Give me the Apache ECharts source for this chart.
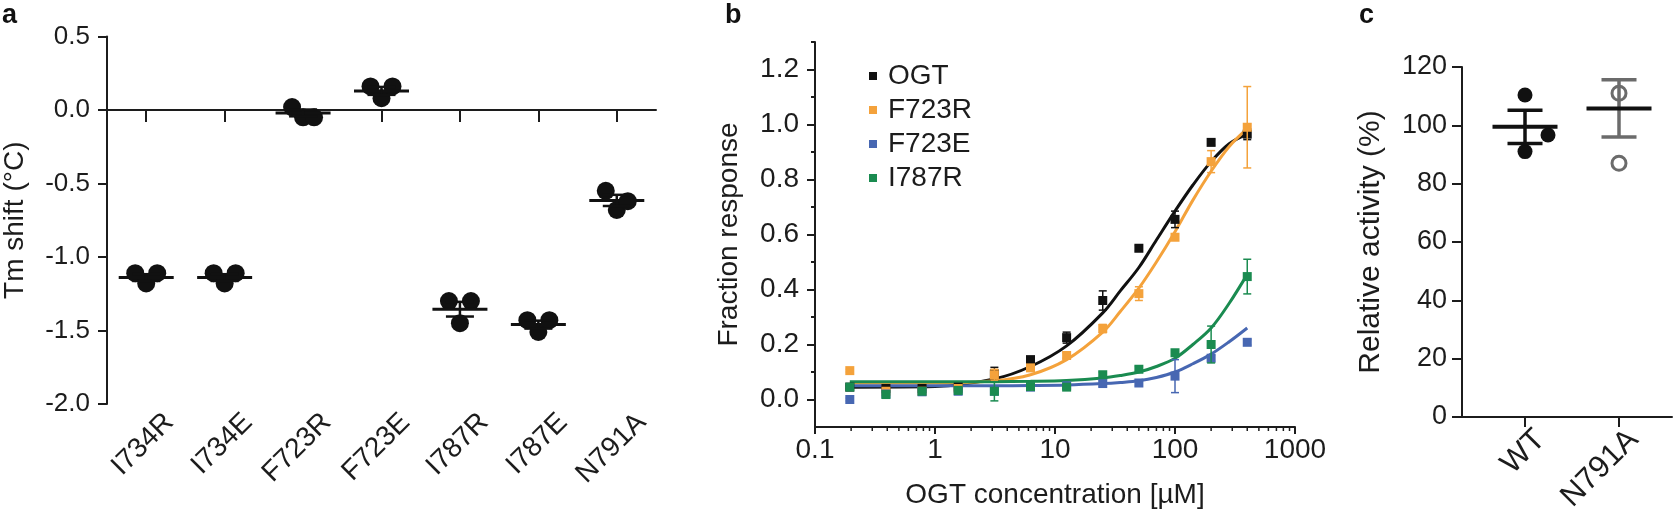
<!DOCTYPE html>
<html><head><meta charset="utf-8">
<script src="https://cdn.jsdelivr.net/npm/echarts@6/dist/echarts.min.js"></script>
<style>html,body{margin:0;padding:0;background:#fff}#c{width:1680px;height:515px}</style>
</head><body><div id="c"></div>
<script>
// ---------- Panel a data ----------
const aCategories = ['I734R','I734E','F723R','F723E','I787R','I787E','N791A'];
const aRepLeft   = [-1.11, -1.11,  0.02, 0.16, -1.30, -1.43, -0.55];
const aRepCenter = [-1.18, -1.18, -0.05, 0.08, -1.45, -1.51, -0.68];
const aRepRight  = [-1.11, -1.11, -0.05, 0.16, -1.30, -1.43, -0.62];
const aMean      = [-1.14, -1.14, -0.02, 0.13, -1.355, -1.46, -0.615];
const aSem       = [0.023, 0.023, 0.023, 0.027, 0.05, 0.027, 0.038];

// ---------- Panel b data ----------
const bConc   = [0.195, 0.39, 0.78, 1.56, 3.125, 6.25, 12.5, 25, 50, 100, 200, 400];
const bOGT    = [0.045, 0.040, 0.040, 0.045, 0.093, 0.145, 0.225, 0.360, 0.550, 0.655, 0.935, 0.965];
const bOGTErr = [0.005, 0.005, 0.005, 0.005, 0.024, 0.010, 0.020, 0.035, 0.010, 0.030, 0.010, 0.020];
const bF723R    = [0.105, 0.030, 0.030, 0.040, 0.090, 0.115, 0.160, 0.258, 0.385, 0.590, 0.865, 0.990];
const bF723RErr = [0.005, 0.005, 0.005, 0.005, 0.020, 0.010, 0.010, 0.015, 0.025, 0.010, 0.040, 0.148];
const bF723E    = [0.000, 0.020, 0.028, 0.030, 0.030, 0.045, 0.050, 0.058, 0.060, 0.085, 0.150, 0.208];
const bF723EErr = [0.005, 0.005, 0.005, 0.005, 0.005, 0.005, 0.005, 0.010, 0.010, 0.060, 0.010, 0.010];
const bI787R    = [0.045, 0.018, 0.030, 0.033, 0.030, 0.047, 0.045, 0.090, 0.110, 0.170, 0.200, 0.447];
const bI787RErr = [0.005, 0.005, 0.005, 0.005, 0.035, 0.005, 0.005, 0.010, 0.010, 0.010, 0.067, 0.063];
// fitted curves
const bFitConc  = [0.195, 1, 3.125, 6.25, 12.5, 25, 35, 50, 70, 100, 141, 200, 283, 400];
const bFitOGT   = [0.045, 0.047, 0.075, 0.120, 0.195, 0.315, 0.395, 0.480, 0.580, 0.685, 0.780, 0.865, 0.930, 0.965];
const bFitF723R = [0.060, 0.060, 0.068, 0.090, 0.145, 0.245, 0.320, 0.405, 0.500, 0.610, 0.725, 0.830, 0.920, 0.985];
const bFitF723E = [0.050, 0.050, 0.050, 0.051, 0.053, 0.058, 0.062, 0.068, 0.080, 0.100, 0.130, 0.165, 0.210, 0.260];
const bFitI787R = [0.065, 0.065, 0.065, 0.066, 0.069, 0.078, 0.087, 0.100, 0.120, 0.150, 0.200, 0.260, 0.350, 0.455];
const bYLabelTicks = [0, 0.2, 0.4, 0.6, 0.8, 1.0, 1.2];
const bYMinorTicks = [0.1, 0.3, 0.5, 0.7, 0.9, 1.1, 1.3];
const bXMinorTicks = [0.2,0.3,0.4,0.5,0.6,0.7,0.8,0.9, 2,3,4,5,6,7,8,9, 20,30,40,50,60,70,80,90, 200,300,400,500,600,700,800,900];
const bSeriesNames = ['OGT','F723R','F723E','I787R'];

// ---------- Panel c data ----------
const cCategories = ['WT','N791A'];
const cWT    = [110.4, 91.0, 96.7];
const cN791A = [120.1, 111.0, 87.0];
const cMean  = [99.5, 105.8];
const cSem   = [5.7, 9.8];

// ---------- styles ----------
const FONT = "'Liberation Sans', Arial, Helvetica, sans-serif";
const INK = '#1c1c1c';
const COL = {OGT:'#111111', F723R:'#F4A23B', F723E:'#4767B2', I787R:'#1A8B50'};
const aJitter = [-11, 0, 11];
const cWTJitter = [0, 0, 23];

function meanLine(width, thick, colors) {
  return function (params, api) {
    const p = api.coord([api.value(0), api.value(1)]);
    const col = Array.isArray(colors) ? colors[params.dataIndex] : colors;
    return {type:'line', shape:{x1:p[0]-width/2, y1:p[1], x2:p[0]+width/2, y2:p[1]},
            style:{stroke:col, lineWidth:thick}};
  };
}
function errBars(capW, lw, colors) {
  return function (params, api) {
    const x = api.value(0), y = api.value(1), e = api.value(2);
    const col = Array.isArray(colors) ? colors[params.dataIndex] : colors;
    const t = api.coord([x, y + e]), b = api.coord([x, y - e]);
    const st = {stroke: col, lineWidth: lw};
    return {type:'group', children:[
      {type:'line', shape:{x1:t[0], y1:t[1], x2:b[0], y2:b[1]}, style:st},
      {type:'line', shape:{x1:t[0]-capW/2, y1:t[1], x2:t[0]+capW/2, y2:t[1]}, style:st},
      {type:'line', shape:{x1:b[0]-capW/2, y1:b[1], x2:b[0]+capW/2, y2:b[1]}, style:st}
    ]};
  };
}

const txt = (size) => ({fontFamily: FONT, fontSize: size, color: INK});

const chart = echarts.init(document.getElementById('c'), null, {renderer:'canvas'});

const series = [];
// panel a replicates
[aRepLeft, aRepCenter, aRepRight].forEach((arr, k) => {
  series.push({type:'scatter', xAxisIndex:0, yAxisIndex:0, symbol:'circle', symbolSize:18,
    symbolOffset:[aJitter[k], 0], itemStyle:{color:'#111', opacity:1},
    data: arr.map((v, i) => [i, v]), z:3});
});
series.push({type:'custom', xAxisIndex:0, yAxisIndex:0, renderItem: meanLine(55, 3, '#111'),
  data: aMean.map((v, i) => [i, v]), z:4});
series.push({type:'custom', xAxisIndex:0, yAxisIndex:0, renderItem: errBars(28, 2.5, '#111'),
  data: aMean.map((v, i) => [i, v, aSem[i]]), z:4});

// panel b fitted curves
const fits = {OGT:bFitOGT, F723R:bFitF723R, F723E:bFitF723E, I787R:bFitI787R};
['OGT','F723R','F723E','I787R'].forEach(n => {
  series.push({type:'line', name:n+' fit', xAxisIndex:2, yAxisIndex:2, smooth:0.35, showSymbol:false,
    lineStyle:{color:COL[n], width:3}, itemStyle:{color:COL[n]},
    data: bFitConc.map((x, i) => [x, fits[n][i]]), z:2});
});
// panel b error bars + points
const pts = {OGT:[bOGT,bOGTErr], F723R:[bF723R,bF723RErr], F723E:[bF723E,bF723EErr], I787R:[bI787R,bI787RErr]};
['OGT','F723R','F723E','I787R'].forEach((n, k) => {
  series.push({type:'custom', xAxisIndex:2, yAxisIndex:2, renderItem: errBars(8, 1.5, COL[n]),
    data: bConc.map((x, i) => [x, pts[n][0][i], pts[n][1][i]]), z:5+k});
  series.push({type:'scatter', name:n, xAxisIndex:2, yAxisIndex:2, symbol:'rect', symbolSize:9,
    itemStyle:{color:COL[n], opacity:1}, data: bConc.map((x, i) => [x, pts[n][0][i]]), z:5+k});
});
// panel b minor x ticks (drawn at axis position through the log scale)
series.push({type:'custom', xAxisIndex:2, yAxisIndex:2, silent:true,
  renderItem: function (params, api) {
    const p = api.coord([api.value(0), -0.1]);
    return {type:'line', shape:{x1:p[0], y1:p[1], x2:p[0], y2:p[1]+4}, style:{stroke:INK, lineWidth:1.5}};
  },
  data: bXMinorTicks.map(v => [v, -0.1]), z:1});

// panel c  (grid 4: xAxis 4, yAxis 5)
series.push({type:'scatter', xAxisIndex:4, yAxisIndex:5, symbol:'circle', symbolSize:15,
  itemStyle:{color:'#111', opacity:1},
  data: cWT.map((v, i) => ({value:[0, v], symbolOffset:[cWTJitter[i], 0]})), z:3});
series.push({type:'scatter', xAxisIndex:4, yAxisIndex:5, symbol:'circle', symbolSize:14,
  itemStyle:{color:'rgba(255,255,255,0)', borderColor:'#6b6b6b', borderWidth:3, opacity:1},
  data: cN791A.map(v => [1, v]), z:3});
series.push({type:'custom', xAxisIndex:4, yAxisIndex:5, renderItem: errBars(35, 3.5, ['#111','#6b6b6b']),
  data: cMean.map((v, i) => [i, v, cSem[i]]), z:4});
series.push({type:'custom', xAxisIndex:4, yAxisIndex:5, renderItem: meanLine(65, 4, ['#111','#111']),
  data: cMean.map((v, i) => [i, v]), z:5});

const option = {
  animation:false,
  textStyle:{fontFamily:FONT},
  grid:[
    {left:105, top:36.5, width:551, height:367.5},   // a
    {left:130, top:36.5, width:551, height:367.5},   // a labels
    {left:815, top:42, width:480, height:385},       // b
    {left:1462, top:67, width:210, height:350},      // c frame
    {left:1478, top:67, width:188, height:350},      // c data
    {left:1494, top:67, width:188, height:350}       // c labels
  ],
  xAxis:[
    {gridIndex:0, type:'category', data:aCategories, boundaryGap:true,
     axisLine:{show:true, onZero:true, lineStyle:{color:INK, width:2}},
     axisTick:{show:true, alignWithLabel:true, length:12, lineStyle:{color:INK, width:2}},
     axisLabel:{show:false}, splitLine:{show:false}},
    {gridIndex:1, type:'category', data:aCategories, position:'bottom',
     axisLine:{show:false, onZero:false}, axisTick:{show:false},
     axisLabel:Object.assign({rotate:45, margin:14, interval:0}, txt(28))},
    {gridIndex:2, type:'log', min:0.1, max:1000, logBase:10, position:'bottom',
     axisLine:{show:true, onZero:false, lineStyle:{color:INK, width:2}},
     axisTick:{show:true, length:7, lineStyle:{color:INK, width:2}},
     axisLabel:Object.assign({margin:9, formatter: v => String(Number(v.toPrecision(3)))}, txt(28)),
     splitLine:{show:false}, minorTick:{show:false},
     name:'OGT concentration [µM]', nameLocation:'middle', nameGap:54,
     nameTextStyle:txt(28)},
    {gridIndex:3, type:'value', min:0, max:1, show:true,
     axisLine:{show:true, onZero:false, lineStyle:{color:INK, width:2}},
     axisTick:{show:false}, axisLabel:{show:false}, splitLine:{show:false}},
    {gridIndex:4, type:'category', data:cCategories,
     axisLine:{show:false, onZero:false},
     axisTick:{show:true, alignWithLabel:true, length:10, lineStyle:{color:INK, width:2}},
     axisLabel:{show:false}},
    {gridIndex:5, type:'category', data:cCategories,
     axisLine:{show:false, onZero:false}, axisTick:{show:false},
     axisLabel:Object.assign({rotate:45, margin:20, interval:0}, txt(31))}
  ],
  yAxis:[
    {gridIndex:0, type:'value', min:-2, max:0.5, interval:0.5,
     axisLine:{show:true, onZero:false, lineStyle:{color:INK, width:2}},
     axisTick:{show:true, length:9, lineStyle:{color:INK, width:2}},
     axisLabel:Object.assign({margin:17, formatter: v => v.toFixed(1)}, txt(26)),
     splitLine:{show:false},
     name:'Tm shift (°C)', nameLocation:'middle', nameGap:78,
     nameTextStyle:txt(28)},
    {gridIndex:1, type:'value', min:-2, max:0.5, show:false},
    {gridIndex:2, type:'value', min:-0.1, max:1.3, position:'left',
     axisLine:{show:true, onZero:false, lineStyle:{color:INK, width:2}},
     axisTick:{show:true, length:8, customValues:bYLabelTicks, lineStyle:{color:INK, width:2}},
     axisLabel:Object.assign({margin:16, customValues:bYLabelTicks, formatter: v => v.toFixed(1)}, txt(28)),
     splitLine:{show:false},
     name:'Fraction response', nameLocation:'middle', nameGap:72,
     nameTextStyle:txt(28)},
    {gridIndex:2, type:'value', min:-0.1, max:1.3, position:'left',
     axisLine:{show:false, onZero:false},
     axisTick:{show:true, length:4, customValues:bYMinorTicks, lineStyle:{color:INK, width:2}},
     axisLabel:{show:false}, splitLine:{show:false}},
    {gridIndex:3, type:'value', min:0, max:120, interval:20,
     axisLine:{show:true, onZero:false, lineStyle:{color:INK, width:2}},
     axisTick:{show:true, length:10, lineStyle:{color:INK, width:2}},
     axisLabel:Object.assign({margin:15}, txt(27)), splitLine:{show:false},
     name:'Relative activity (%)', nameLocation:'middle', nameGap:76,
     nameTextStyle:txt(30)},
    {gridIndex:4, type:'value', min:0, max:120, show:false},
    {gridIndex:5, type:'value', min:0, max:120, show:false}
  ],
  legend:{data:bSeriesNames, orient:'vertical', left:864, top:57, icon:'rect',
    itemWidth:8, itemHeight:8, itemGap:6, selectedMode:false,
    textStyle:{fontFamily:FONT, fontSize:28, lineHeight:28, color:INK, padding:[0,0,0,6]}},
  graphic:[
    {type:'text', left:2, top:2, style:{text:'a', font:'bold 27px ' + FONT, fill:'#111'}},
    {type:'text', left:725, top:2, style:{text:'b', font:'bold 27px ' + FONT, fill:'#111'}},
    {type:'text', left:1359, top:2, style:{text:'c', font:'bold 27px ' + FONT, fill:'#111'}}
  ],
  series: series
};
chart.setOption(option);
</script>
</body></html>
